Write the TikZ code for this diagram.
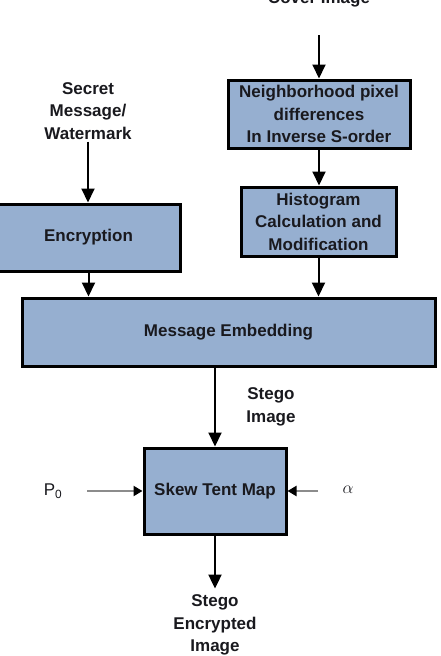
\documentclass[tikz,border=0pt]{standalone}
\usepackage{fontspec}
\setmainfont{Liberation Sans}
\usetikzlibrary{arrows.meta}
\definecolor{boxfill}{RGB}{150,175,208}
\definecolor{txt}{RGB}{25,25,30}
\tikzset{
  blk/.style={draw=black, line width=3pt, fill=boxfill, inner sep=0pt},
  lbl/.style={font=\fontsize{17}{22.5}\selectfont\bfseries, text=txt, align=center, inner sep=2pt},
  plain/.style={font=\fontsize{17}{22.5}\selectfont, text=txt, inner sep=0pt},
  flow/.style={line width=2pt, -{Triangle[length=14pt,width=13pt]}},
  side/.style={line width=2.6pt, draw=gray!90, -{Triangle[length=9pt,width=10pt,color=black,fill=black]}},
}
\begin{document}
\begin{tikzpicture}[x=1pt,y=-1pt]
\useasboundingbox (0,0) rectangle (440,656);
% boxes
\node[blk, lbl, minimum width=182pt, minimum height=68pt] (nb) at (319,114)
  {Neighborhood pixel\\differences\\In Inverse S-order};
\node[blk, lbl, minimum width=155pt, minimum height=69pt] (hist) at (318.5,221.5)
  {Histogram\\Calculation and\\Modification};
\node[blk, lbl, minimum width=183pt, minimum height=67pt] (enc) at (88.5,237.5)
  {Encryption};
\node[blk, lbl, minimum width=413pt, minimum height=68pt] (me) at (228.5,332)
  {Message Embedding};
\node[blk, lbl, minimum width=142pt, minimum height=86pt] (sk) at (215,491)
  {Skew Tent Map};
% labels
\node[lbl, anchor=base] (cover) at (319,3) {Cover Image};
\node[lbl] (secret) at (88,111) {Secret\\Message/\\Watermark};
\node[lbl] (stego) at (271,407) {Stego\\Image};
\node[lbl, inner sep=6pt] (out) at (215,625) {Stego\\Encrypted\\Image};
\node[plain] (p0) at (53,491) {P\textsubscript{0}};
\node[plain, font=\fontsize{19}{22}\selectfont] (al) at (348,490) {$\alpha$};
% free ends
\coordinate (covs) at (319,35);
\coordinate (p0s) at (87,491);
\coordinate (als) at (318,491);
% connectors
\draw[flow] (covs) -- (nb.north);
\draw[flow] (nb.south) -- (nb.south |- hist.north);
\draw[flow] (hist.south) -- (hist.south |- me.north);
\draw[flow] (secret.south) -- (secret.south |- enc.north);
\draw[flow] (enc.south) -- (enc.south |- me.north);
\draw[flow] (me.south -| sk.north) -- (sk.north);
\draw[flow] (sk.south) -- (out.north);
\draw[side] (p0s) -- (sk.west);
\draw[side] (als) -- (sk.east);
\end{tikzpicture}
\end{document}
